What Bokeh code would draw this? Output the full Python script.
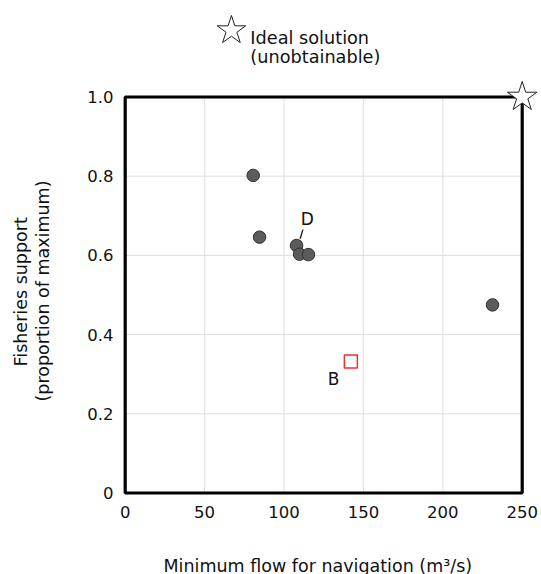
import math
from bokeh.plotting import figure
from bokeh.models import Range1d, FixedTicker, BoxAnnotation, Label, ColumnDataSource, Title
from bokeh.embed import file_html
from bokeh.resources import INLINE

# ---- data ----
flow = [80.6, 84.6, 107.9, 109.8, 115.4, 231.3]          # m3/s
fish = [0.802, 0.646, 0.625, 0.603, 0.602, 0.475]        # proportion of max
b_flow = [142.1]
b_fish = [0.332]
ideal_flow = [250]
ideal_fish = [1.0]
x_ticks = [0, 50, 100, 150, 200, 250]
x_tick_labels = ["0", "50", "100", "150", "200", "250"]
y_ticks = [0, 0.2, 0.4, 0.6, 0.8, 1.0]
y_tick_labels = ["0", "0.2", "0.4", "0.6", "0.8", "1.0"]
x_label = "Minimum flow for navigation (m³/s)"
y_label_lines = ["Fisheries support", "(proportion of maximum)"]
legend_lines = ["Ideal solution", "(unobtainable)"]

FONT = "DejaVu Sans"

p = figure(width=541, height=574, output_backend="svg", toolbar_location=None,
           x_range=Range1d(-2.96, 262.15), y_range=Range1d(-0.00884, 1.2184),
           min_border_left=120, min_border_right=0, min_border_top=10,
           min_border_bottom=78)
p.outline_line_color = None
p.background_fill_color = "white"
p.border_fill_color = "white"
p.xgrid.visible = False
p.ygrid.visible = False

for ax, ticks, labels in ((p.xaxis[0], x_ticks, x_tick_labels),
                          (p.yaxis[0], y_ticks, y_tick_labels)):
    ax.ticker = FixedTicker(ticks=ticks)
    ax.major_label_overrides = {t: l for t, l in zip(ticks, labels)}
    ax.axis_line_color = None
    ax.major_tick_line_color = None
    ax.minor_tick_line_color = None
    ax.major_tick_in = 0
    ax.major_tick_out = 0
    ax.major_label_text_font = FONT
    ax.major_label_text_font_size = "16.5px"
    ax.major_label_text_color = "#111111"
    # invisible spacer label: only used to push the title panels outward
    ax.axis_label = " "
    ax.axis_label_text_font_size = "1px"
p.xaxis.major_label_standoff = 9
p.yaxis.major_label_standoff = 7
p.xaxis.axis_label_standoff = 31
p.yaxis.axis_label_standoff = 28

# grid lines limited to the box
gx = ColumnDataSource(dict(x=x_ticks[1:-1], y0=[y_ticks[0]] * 4, y1=[y_ticks[-1]] * 4))
gy = ColumnDataSource(dict(y=y_ticks[1:-1], x0=[x_ticks[0]] * 4, x1=[x_ticks[-1]] * 4))
r1 = p.segment(x0="x", y0="y0", x1="x", y1="y1", source=gx, line_color="#dedede", line_width=1)
r2 = p.segment(x0="x0", y0="y", x1="x1", y1="y", source=gy, line_color="#dedede", line_width=1)
r1.level = "image"
r2.level = "image"

box = BoxAnnotation(left=x_ticks[0], right=x_ticks[-1], bottom=y_ticks[0], top=y_ticks[-1],
                    fill_alpha=0, line_color="black", line_alpha=1.0, line_width=3.2,
                    level="underlay")
p.add_layout(box)

# solutions
p.scatter(flow, fish, size=12.5, fill_color="#5c5c5c", line_color="#303030", line_width=1)
p.scatter(b_flow, b_fish, marker="square", size=13, fill_color=None,
          line_color="#e8332a", line_width=1.5)
# ideal point
p.scatter(ideal_flow, ideal_fish, marker="star", size=31, fill_color="white",
          line_color="#222222", line_width=1)

# point labels
p.add_layout(Label(x=114.6, y=0.691, text="D", text_font=FONT, text_font_size="17px",
                   text_align="center", text_baseline="middle", text_color="#111111"))
p.segment(x0=[111.9], y0=[0.665], x1=[110.2], y1=[0.642], line_color="#111111", line_width=1.3)
p.add_layout(Label(x=131.2, y=0.288, text="B", text_font=FONT, text_font_size="17px",
                   text_align="center", text_baseline="middle", text_color="#111111"))

# legend for ideal solution
p.scatter([66.9], [1.168], marker="star", size=30, fill_color="white",
          line_color="#222222", line_width=1)
for txt, yy in zip(legend_lines, [1.1495, 1.102]):
    p.add_layout(Label(x=78.8, y=yy, text=txt, text_font=FONT, text_font_size="17.7px",
                       text_align="left", text_baseline="alphabetic", text_color="#111111"))

# axis titles (as side titles so they are not clipped by the frame)
p.add_layout(Title(text=x_label, align="left", offset=43, standoff=-4,
                   text_font=FONT, text_font_size="17.5px", text_font_style="normal",
                   text_color="#111111"), "below")
p.add_layout(Title(text=y_label_lines[1], align="left", offset=95, standoff=0,
                   text_font=FONT, text_font_size="17.5px", text_font_style="normal",
                   text_color="#111111"), "left")
p.add_layout(Title(text=y_label_lines[0], align="left", offset=130, standoff=0,
                   text_font=FONT, text_font_size="17.5px", text_font_style="normal",
                   text_color="#111111"), "left")

open("out.html", "w").write(file_html(p, INLINE))
